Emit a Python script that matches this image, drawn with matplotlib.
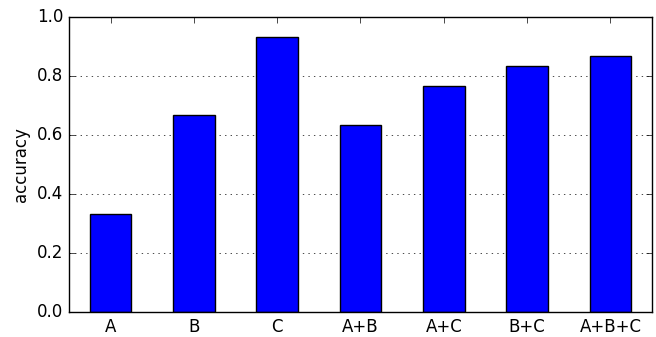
import numpy as np
import matplotlib
matplotlib.use("Agg")
import matplotlib.pyplot as plt

plt.style.use('classic')

labels = ["A", "B", "C", "A+B", "A+C", "B+C", "A+B+C"]
accuracy = [0.333, 0.667, 0.933, 0.633, 0.767, 0.833, 0.867]

fig = plt.figure(figsize=(6.56, 3.37), dpi=100, facecolor='white')
ax = fig.add_axes([0.105, 0.074, 0.889, 0.876])

x = np.arange(len(labels))
ax.bar(x, accuracy, width=0.5, align='center', color='blue', edgecolor='black')

ax.set_xlim(-0.5, len(labels) - 0.5)
ax.set_ylim(0, 1.0)
ax.set_xticks(x)
ax.set_xticklabels(labels)
ax.set_yticks([0.0, 0.2, 0.4, 0.6, 0.8, 1.0])
ax.yaxis.grid(True, linestyle=':', color='black')
ax.set_axisbelow(True)
ax.set_ylabel("accuracy")

fig.savefig("out.png", dpi=100, facecolor='white')
